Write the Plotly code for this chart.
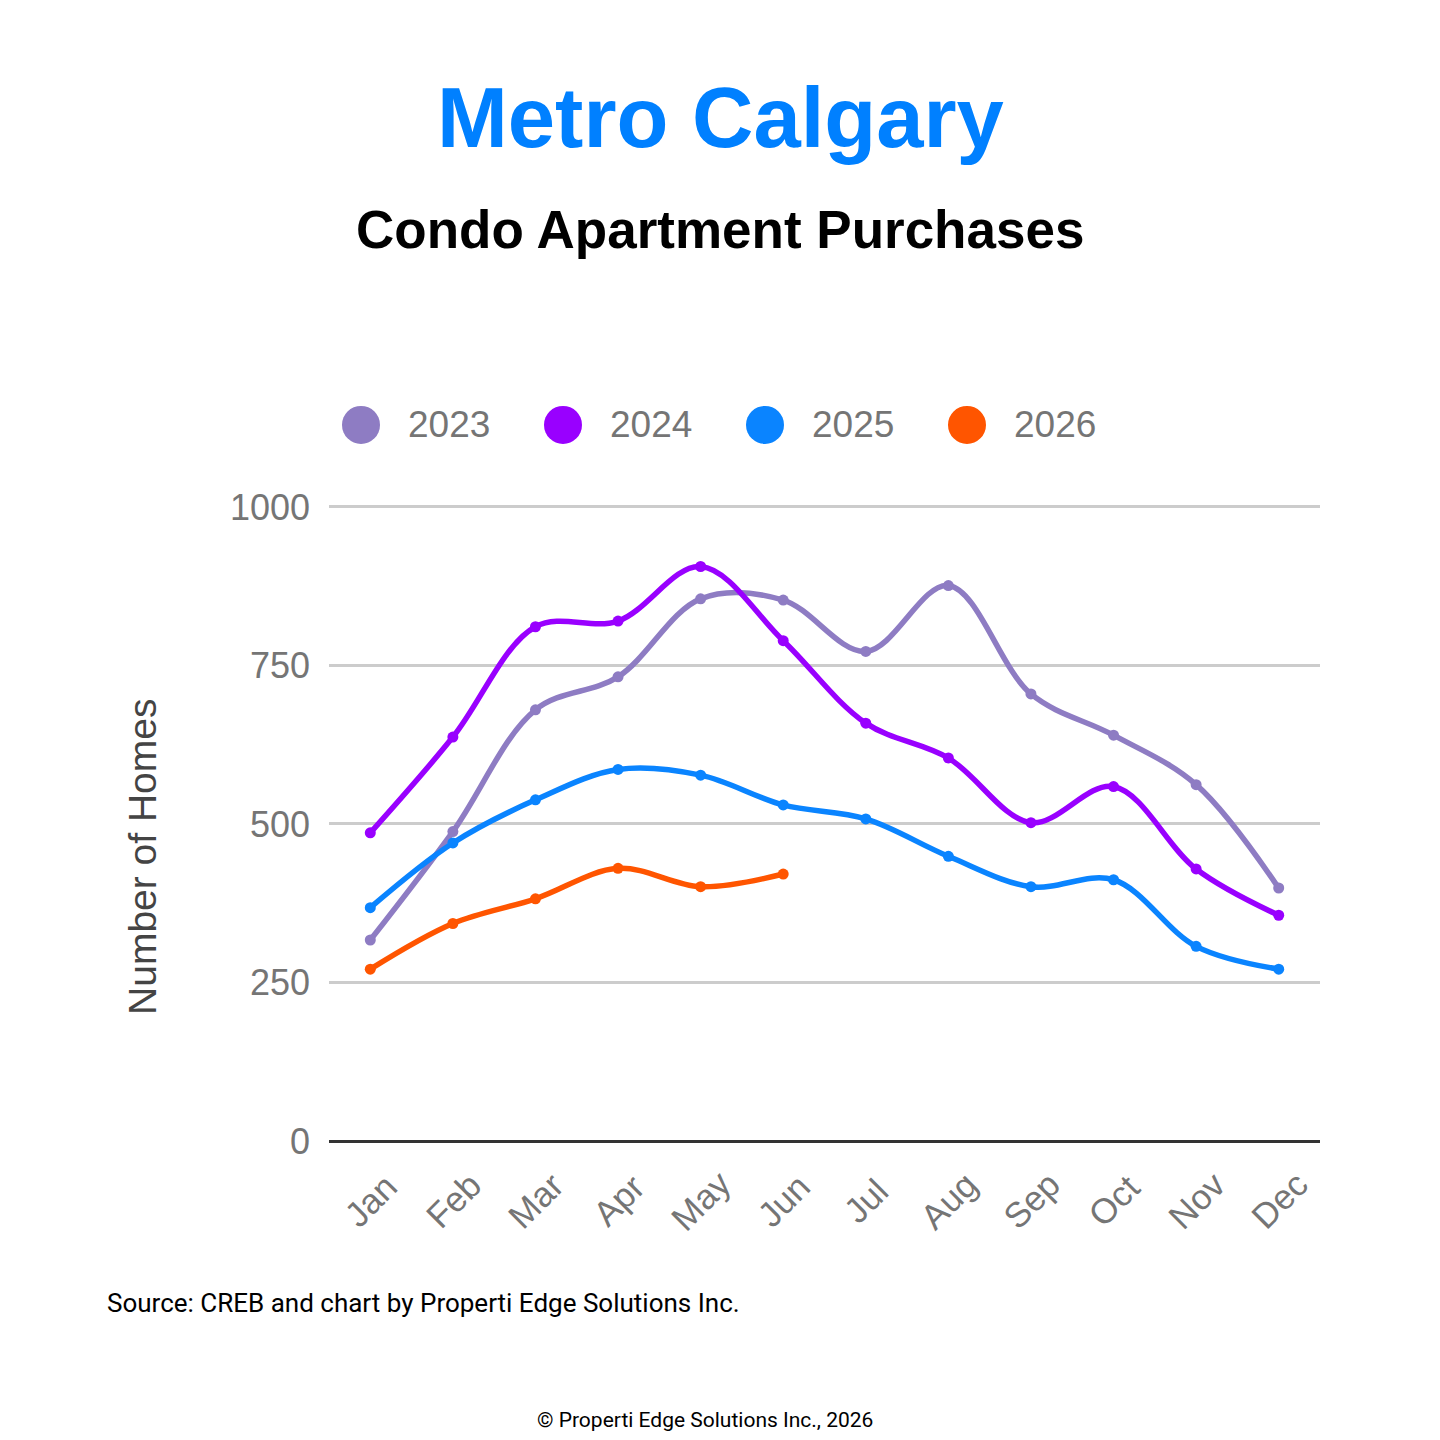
import plotly.graph_objects as go

months = ["Jan", "Feb", "Mar", "Apr", "May", "Jun", "Jul", "Aug", "Sep", "Oct", "Nov", "Dec"]
y2023 = [317, 488, 680, 732, 855, 853, 772, 876, 705, 640, 562, 399]
y2024 = [486, 637, 811, 820, 906, 789, 659, 604, 502, 559, 429, 356]
y2025 = [368, 470, 538, 586, 577, 530, 508, 449, 401, 412, 307, 271]
y2026 = [271, 343, 382, 430, 401, 421]
series_names = ["2023", "2024", "2025", "2026"]
series_colors = ["#8e7cc3", "#9900ff", "#0a84ff", "#ff5500"]
y_ticks = [0, 250, 500, 750, 1000]

W = H = 1440
OFF = 8  # page body margin
YMAX = 1003
L, R, B = 329 - OFF, 1320 - OFF, 1141 - OFF
T = B - (B - (507 - OFF)) * YMAX / 1000.0


def px(x):
    return (x - OFF - L) / (R - L)


def py(y):
    return (B - (y - OFF)) / (B - T)


fig = go.Figure()
for name, vals, col in zip(series_names, [y2023, y2024, y2025, y2026], series_colors):
    fig.add_trace(go.Scatter(
        x=months[:len(vals)], y=vals, name=name, mode="lines+markers",
        line=dict(color=col, width=5.5, shape="spline", smoothing=1.0),
        marker=dict(color=col, size=11), showlegend=False, hoverinfo="skip"))

annotations = []
shapes = []
# Legend drawn as circles + labels
leg_x = [361, 563, 765, 967]
for cx, name, col in zip(leg_x, series_names, series_colors):
    shapes.append(dict(type="circle", xref="paper", yref="paper", xsizemode="pixel", ysizemode="pixel",
                       xanchor=px(cx), yanchor=py(425), x0=-19, x1=19, y0=-19, y1=19,
                       fillcolor=col, line=dict(width=0)))
    annotations.append(dict(text=name, xref="paper", yref="paper", x=px(cx + 45), y=py(425),
                            xanchor="left", yanchor="middle", showarrow=False,
                            font=dict(family="Liberation Sans, Arial", size=37, color="#757575")))

# Titles
annotations.append(dict(text="<b>Metro Calgary</b>", xref="paper", yref="paper", x=px(720), y=py(118),
                        xanchor="center", yanchor="middle", showarrow=False,
                        font=dict(family="Liberation Sans, Arial", size=85, color="#0080ff")))
annotations.append(dict(text="<b>Condo Apartment Purchases</b>", xref="paper", yref="paper", x=px(720), y=py(230),
                        xanchor="center", yanchor="middle", showarrow=False,
                        font=dict(family="Liberation Sans, Arial", size=53, color="#000000")))
# Y axis title
annotations.append(dict(text="Number of Homes", xref="paper", yref="paper", x=px(143), y=py(857),
                        xanchor="center", yanchor="middle", showarrow=False, textangle=-90,
                        font=dict(family="Liberation Sans, Arial", size=39, color="#444444")))
# X labels (slanted, centered on category)
for m in months:
    annotations.append(dict(text=m, xref="x", yref="paper", x=m, y=py(1200),
                            xanchor="center", yanchor="middle", showarrow=False, textangle=-45,
                            font=dict(family="Liberation Sans, Arial", size=35, color="#757575")))
# Footer
annotations.append(dict(text="Source: CREB and chart by Properti Edge Solutions Inc.", xref="paper", yref="paper",
                        x=px(105), y=py(1303), xanchor="left", yanchor="middle", showarrow=False,
                        font=dict(family="Roboto", size=26, color="#000000")))
annotations.append(dict(text="© Properti Edge Solutions Inc., 2026", xref="paper", yref="paper",
                        x=px(705), y=py(1420), xanchor="center", yanchor="middle", showarrow=False,
                        font=dict(family="Roboto", size=21, color="#000000")))

fig.update_layout(
    width=W, height=H, paper_bgcolor="white", plot_bgcolor="white",
    margin=dict(l=L, r=W - R, t=T, b=H - B, autoexpand=False),
    showlegend=False, annotations=annotations, shapes=shapes,
    xaxis=dict(type="category", categoryorder="array", categoryarray=months, range=[-0.5, 11.5],
               showticklabels=False, showgrid=False, zeroline=False, showline=False, ticks=""),
    yaxis=dict(range=[0, YMAX], tickvals=y_ticks, ticktext=[str(v) for v in y_ticks],
               showgrid=True, gridcolor="#cccccc", gridwidth=2.5, zeroline=True,
               zerolinecolor="#333333", zerolinewidth=3, showline=False, ticks="",
               ticklabelstandoff=18,
               tickfont=dict(family="Liberation Sans, Arial", size=36, color="#757575")),
)

fig.write_html("out.html")
